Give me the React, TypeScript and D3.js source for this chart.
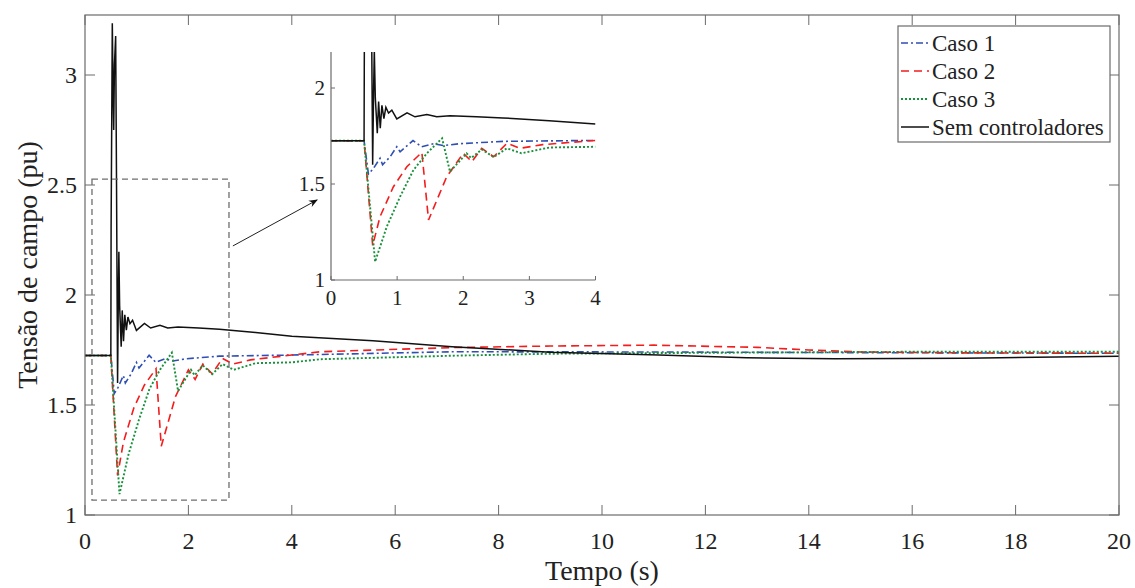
import React from 'react'
import * as d3 from 'd3'

// series, [tempo (s), tensão (pu)]
const caso1 = [
	[0, 1.725], [0.5, 1.725], [0.566, 1.552], [0.64, 1.58], [0.742, 1.634], [0.78, 1.6],
	[0.894, 1.642], [0.995, 1.694], [1.045, 1.668], [1.24, 1.726], [1.37, 1.694], [1.55, 1.71],
	[1.7, 1.7], [1.95, 1.71], [2.6, 1.722], [4, 1.727], [7.1, 1.742], [11, 1.741], [15, 1.738], [20, 1.735],
]
const caso2 = [
	[0, 1.725], [0.5, 1.725], [0.63, 1.18], [0.742, 1.33], [0.944, 1.486], [1.147, 1.59],
	[1.374, 1.665], [1.475, 1.3125], [1.75, 1.538], [2.0, 1.66], [2.13, 1.616], [2.28, 1.686],
	[2.46, 1.642], [2.66, 1.712], [2.86, 1.686], [3.2, 1.705], [4, 1.727], [4.55, 1.742],
	[7.1, 1.761], [9, 1.768], [11, 1.772], [13, 1.762], [14, 1.75], [15, 1.741], [17, 1.737], [20, 1.735],
]
const caso3 = [
	[0, 1.725], [0.5, 1.725], [0.667, 1.095], [0.844, 1.278], [1.045, 1.434], [1.247, 1.573],
	[1.45, 1.66], [1.68, 1.738], [1.8, 1.564], [2.05, 1.66], [2.12, 1.635], [2.28, 1.68],
	[2.46, 1.64], [2.66, 1.686], [2.88, 1.66], [3.3, 1.69], [4, 1.694], [4.55, 1.708],
	[7.1, 1.724], [9, 1.733], [11, 1.736], [16, 1.742], [20, 1.742],
]
const semControladores = [
	[0, 1.725], [0.5, 1.725], [0.505, 2.3], [0.528, 3.235], [0.545, 2.9], [0.555, 2.75],
	[0.57, 3.05], [0.593, 3.177], [0.61, 2.5], [0.63, 1.6], [0.645, 2.0], [0.655, 2.197],
	[0.67, 1.95], [0.7, 1.765], [0.72, 1.93], [0.745, 1.79], [0.77, 1.91], [0.8, 1.84],
	[0.83, 1.9], [0.87, 1.87], [0.92, 1.885], [0.995, 1.839], [1.15, 1.871], [1.27, 1.85],
	[1.45, 1.862], [1.6, 1.85], [1.8, 1.855], [2.2, 1.85], [2.6, 1.844], [3.3, 1.83],
	[4, 1.8125], [5.57, 1.792], [7.1, 1.765], [9, 1.74], [11.1, 1.727], [12.8, 1.715],
	[14.5, 1.71], [17, 1.713], [20, 1.722],
]

const legendLabels = ['Caso 1', 'Caso 2', 'Caso 3', 'Sem controladores']
const xTicks = [0, 2, 4, 6, 8, 10, 12, 14, 16, 18, 20]
const yTicks = [1, 1.5, 2, 2.5, 3]
const insetXTicks = [0, 1, 2, 3, 4]
const insetYTicks = [1, 1.5, 2]
// dashed zoom box: t0, t1, v0, v1
const zoomBox = [0.135, 2.785, 1.068, 2.527]
const arrowFrom = [2.86, 2.223]
const arrowTo = [4.49, 2.432]

const series = [caso1, caso2, caso3, semControladores]
const colors = ['#2f4fb3', '#f41c1c', '#17913a', '#111']
const dashes = ['7,3,2,3', '8,5', '2,2', null]
const widths = [1.6, 1.6, 1.9, 1.5]

const font = '"Liberation Serif", "DejaVu Serif", serif'
const axisColor = '#6b6b6b'

export default function App() {
	const L = 85, R = 1119, T = 15, B = 515
	const x = d3.scaleLinear().domain([0, 20]).range([L, R])
	const y = d3.scaleLinear().domain([1, 1 + (B - T) / 220]).range([B, T])

	const iL = 331, iR = 595.5, iT = 52, iB = 280
	const xi = d3.scaleLinear().domain([0, 4]).range([iL, iR])
	const yi = d3.scaleLinear().domain([1, 1 + (iB - iT) / 192]).range([iB, iT])

	const mainLine = d3.line<number[]>().x(d => x(d[0])).y(d => y(d[1]))
	const insetLine = d3.line<number[]>().x(d => xi(d[0])).y(d => yi(d[1]))

	return (
		<svg width={1135} height={588} style={{position: 'absolute', left: 0, top: 0, background: '#fff'}}
			fontFamily={font}>
			<defs>
				<clipPath id="mainClip"><rect x={L} y={T} width={R - L} height={B - T}/></clipPath>
				<clipPath id="insetClip"><rect x={iL} y={iT} width={iR - iL} height={iB - iT}/></clipPath>
				<marker id="head" viewBox="0 0 10 10" refX="9" refY="5" markerWidth="9" markerHeight="9" orient="auto">
					<path d="M0,1 L10,5 L0,9 L3,5 z" fill="#111"/>
				</marker>
			</defs>

			<rect x={L} y={T} width={R - L} height={B - T} fill="#fff"/>

			{/* main curves */}
			<g clipPath="url(#mainClip)">
				{series.map((s, i) => (
					<path key={`m-${i}`} d={mainLine(s) || ''} fill="none" stroke={colors[i]}
						strokeWidth={widths[i]} strokeDasharray={dashes[i] || undefined}/>
				))}
			</g>

			{/* frame + ticks */}
			<rect x={L} y={T} width={R - L} height={B - T} fill="none" stroke={axisColor} strokeWidth={1.2}/>
			{xTicks.map(t => (
				<g key={`xt-${t}`}>
					<line x1={x(t)} x2={x(t)} y1={B} y2={B - 10} stroke={axisColor}/>
					<line x1={x(t)} x2={x(t)} y1={T} y2={T + 10} stroke={axisColor}/>
					<text x={x(t)} y={549} textAnchor="middle" fontSize={24} fill="#222">{t}</text>
				</g>
			))}
			{yTicks.map(t => (
				<g key={`yt-${t}`}>
					<line x1={L} x2={L + 10} y1={y(t)} y2={y(t)} stroke={axisColor}/>
					<line x1={R} x2={R - 10} y1={y(t)} y2={y(t)} stroke={axisColor}/>
					<text x={77} y={y(t) + 8} textAnchor="end" fontSize={24} fill="#222">{t}</text>
				</g>
			))}
			<text x={(L + R) / 2} y={580} textAnchor="middle" fontSize={28} fill="#222">Tempo (s)</text>
			<text transform={`translate(37,${(T + B) / 2}) rotate(-90)`} textAnchor="middle" fontSize={28} fill="#222">
				Tensão de campo (pu)
			</text>

			{/* zoom box and arrow */}
			<rect x={x(zoomBox[0])} y={y(zoomBox[3])} width={x(zoomBox[1]) - x(zoomBox[0])}
				height={y(zoomBox[2]) - y(zoomBox[3])} fill="none" stroke="#6e6e6e" strokeWidth={1.3}
				strokeDasharray="6,4"/>
			<line x1={x(arrowFrom[0])} y1={y(arrowFrom[1])} x2={x(arrowTo[0])} y2={y(arrowTo[1])}
				stroke="#222" strokeWidth={1} markerEnd="url(#head)"/>

			{/* inset */}
			<rect x={iL} y={iT} width={iR - iL} height={iB - iT} fill="#fff"/>
			<g clipPath="url(#insetClip)">
				{series.map((s, i) => (
					<path key={`i-${i}`} d={insetLine(s.filter(d => d[0] <= 4.2)) || ''} fill="none"
						stroke={colors[i]} strokeWidth={widths[i]} strokeDasharray={dashes[i] || undefined}/>
				))}
			</g>
			<line x1={iL} x2={iL} y1={iT} y2={iB} stroke={axisColor} strokeWidth={1.2}/>
			<line x1={iL} x2={iR} y1={iB} y2={iB} stroke={axisColor} strokeWidth={1.2}/>
			{insetXTicks.map(t => (
				<g key={`ixt-${t}`}>
					<line x1={xi(t)} x2={xi(t)} y1={iB} y2={iB - 4} stroke={axisColor}/>
					<text x={xi(t)} y={305} textAnchor="middle" fontSize={21} fill="#222">{t}</text>
				</g>
			))}
			{insetYTicks.map(t => (
				<g key={`iyt-${t}`}>
					<line x1={iL} x2={iL + 4} y1={yi(t)} y2={yi(t)} stroke={axisColor}/>
					<text x={325} y={yi(t) + 7} textAnchor="end" fontSize={21} fill="#222">{t}</text>
				</g>
			))}

			{/* legend */}
			<rect x={898} y={26} width={212} height={116} fill="#fff" stroke={axisColor} strokeWidth={1.2}/>
			{legendLabels.map((lab, i) => (
				<g key={`lg-${i}`}>
					<line x1={901} x2={929} y1={43 + 28 * i} y2={43 + 28 * i} stroke={colors[i]}
						strokeWidth={widths[i]} strokeDasharray={dashes[i] || undefined}/>
					<text x={932} y={51 + 28 * i} fontSize={23} fill="#222">{lab}</text>
				</g>
			))}
		</svg>
	)
}
